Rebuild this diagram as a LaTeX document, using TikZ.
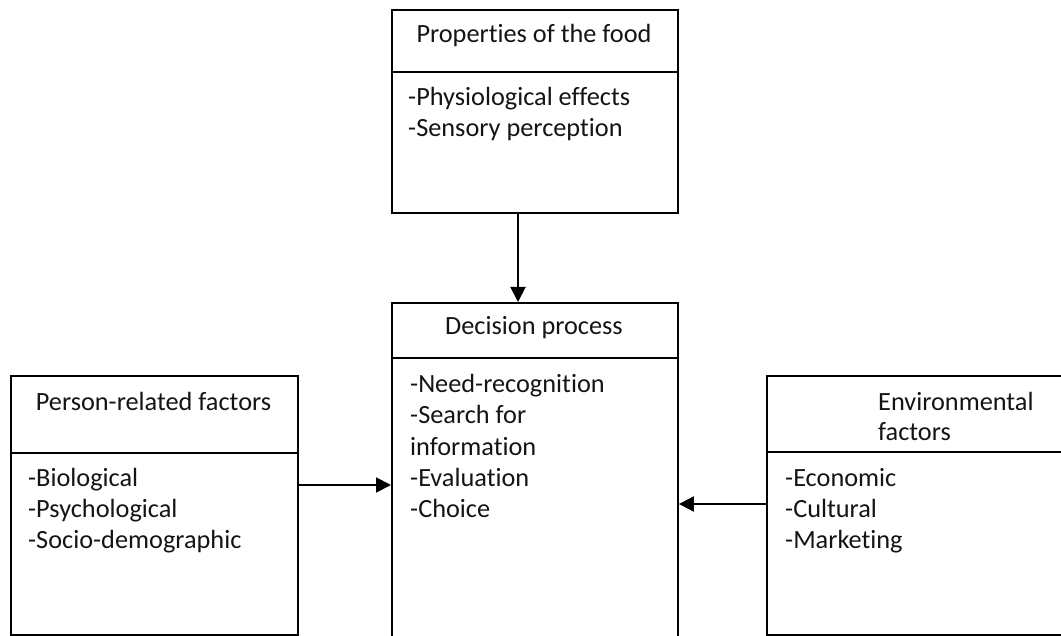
\documentclass[tikz,border=0pt]{standalone}
\usepackage{fontspec}
\setmainfont{Carlito}[Ligatures=NoCommon]
\usetikzlibrary{arrows.meta}
\begin{document}
\begin{tikzpicture}[x=1pt,y=-1pt,
  box/.style={draw, line width=1.9pt, inner sep=0pt, anchor=north west},
  lbl/.style={anchor=base west, inner sep=0pt, font=\fontsize{26.3}{31}\selectfont, text=black!92},
  hd/.style={anchor=base, inner sep=0pt, font=\fontsize{26.3}{31}\selectfont, text=black!92},
  arr/.style={line width=1.9pt, -{Triangle[length=15pt,width=15pt]}}]
\useasboundingbox (0,0) rectangle (1061,636);
\clip (0,0) rectangle (1061,636);
% top box
\node[box, minimum width=286pt, minimum height=62pt] (thead) at (391,9) {};
\node[box, minimum width=286pt, minimum height=141pt] (tbody) at (391,71) {};
\node[hd] (ttitle) at (534,43) {Properties of the food};
\node[lbl] (t1) at (408,106) {-Physiological effects};
\node[lbl] (t2) at (408,136.5) {-Sensory perception};
% center box
\node[box, minimum width=286pt, minimum height=55pt] (chead) at (391,302) {};
\node[box, minimum width=286pt, minimum height=303pt] (cbody) at (391,357) {};
\node[hd] (ctitle) at (534,335) {Decision process};
\node[lbl] (c1) at (410,393) {-Need-recognition};
\node[lbl] (c2) at (410,424) {-Search for};
\node[lbl] (c3) at (410,455) {information};
\node[lbl] (c4) at (410,486) {-Evaluation};
\node[lbl] (c5) at (410,517) {-Choice};
% left box
\node[box, minimum width=287pt, minimum height=77pt] (lhead) at (10,375) {};
\node[box, minimum width=287pt, minimum height=182pt] (lbody) at (10,452) {};
\node[hd] (ltitle) at (153.5,410) {Person-related factors};
\node[lbl] (l1) at (28,486) {-Biological};
\node[lbl] (l2) at (28,517) {-Psychological};
\node[lbl] (l3) at (28,548) {-Socio-demographic};
% right box
\node[box, minimum width=310pt, minimum height=76pt] (rhead) at (766,375) {};
\node[box, minimum width=310pt, minimum height=183pt] (rbody) at (766,451) {};
\node[lbl] (r0a) at (878,410) {Environmental};
\node[lbl] (r0b) at (878,441) {factors};
\node[lbl] (r1) at (785,486) {-Economic};
\node[lbl] (r2) at (785,517) {-Cultural};
\node[lbl] (r3) at (785,548) {-Marketing};
% arrows
\coordinate (ax) at (518,0);
\coordinate (ly) at (0,485);
\coordinate (ry) at (0,504);
\draw[arr] (tbody.south -| ax) -- (chead.north -| ax);
\draw[arr] (lbody.east |- ly) -- (cbody.west |- ly);
\draw[arr] (rbody.west |- ry) -- (cbody.east |- ry);
\end{tikzpicture}
\end{document}
